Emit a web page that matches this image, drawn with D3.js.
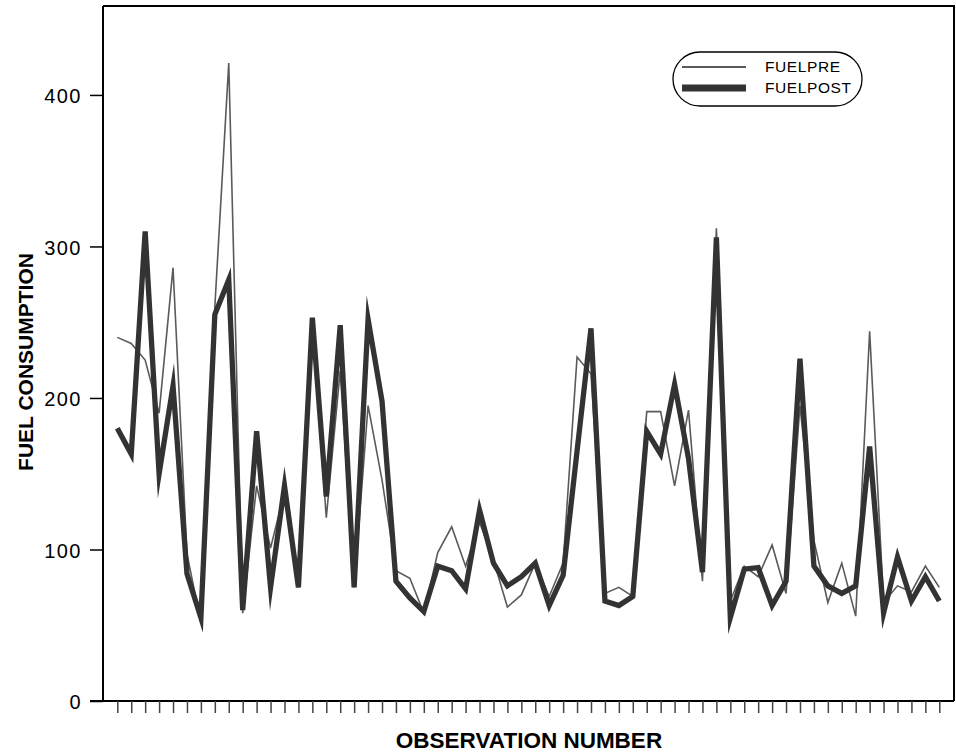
<!DOCTYPE html>
<html>
<head>
<meta charset="utf-8">
<script src="https://cdn.jsdelivr.net/npm/d3@7"></script>
<style>
  html, body { margin: 0; padding: 0; background: #fff; }
  svg { display: block; }
</style>
</head>
<body>
<svg id="chart" width="956" height="755"></svg>
<script>
// ---- data ----
const observations = d3.range(1, 61); // 60 observations
const fuelPre = [240, 236, 225, 190, 286, 97, 52, 260, 421, 58,
                 142, 101, 138, 75, 250, 121, 218, 75, 195, 146,
                 86, 81, 58, 98, 115, 89, 118, 93, 62, 70,
                 91, 69, 91, 227, 216, 71, 75, 69, 191, 191,
                 142, 192, 79, 312, 66, 89, 82, 103, 71, 195,
                 106, 65, 91, 56, 244, 65, 76, 72, 89, 75];
const fuelPost = [180, 163, 310, 150, 208, 84, 55, 255, 278, 60,
                  178, 75, 142, 75, 253, 135, 248, 75, 252, 198,
                  79, 68, 59, 89, 86, 74, 126, 91, 76, 82,
                  91, 63, 83, 165, 246, 66, 63, 69, 178, 163,
                  209, 160, 85, 306, 55, 87, 88, 63, 79, 226,
                  89, 76, 71, 76, 168, 58, 95, 66, 82, 66];
const yTicks = [0, 100, 200, 300, 400];
const seriesNames = ["FUELPRE", "FUELPOST"];

// ---- layout ----
const svg = d3.select("#chart");
const frame = { left: 103, right: 954, top: 6, bottom: 701 };

const x = d3.scaleLinear().domain([1, 60]).range([117.3, 939.3]);
const y = d3.scaleLinear().domain([0, 458.7]).range([frame.bottom, frame.top]);

// frame (top, right)
svg.append("path")
  .attr("d", `M${frame.left},${frame.top}H${frame.right}V${frame.bottom}`)
  .attr("fill", "none").attr("stroke", "#000").attr("stroke-width", 2);

// y axis
const yAxis = d3.axisLeft(y).tickValues(yTicks).tickSize(13).tickPadding(8).tickSizeOuter(0);
const gy = svg.append("g").attr("transform", `translate(${frame.left},0)`).call(yAxis);
gy.select(".domain").attr("stroke", "#000").attr("stroke-width", 2)
  .attr("d", `M0,${frame.top}V${frame.bottom}`);
gy.selectAll(".tick line").attr("stroke", "#000").attr("stroke-width", 1.5);
gy.selectAll(".tick text")
  .attr("font-family", "'Liberation Sans', Arial, sans-serif")
  .attr("font-size", 20).attr("fill", "#000")
  .attr("letter-spacing", "1.5px").attr("dy", "0.38em");

// x axis (ticks only, no labels)
const xAxis = d3.axisBottom(x).tickValues(observations).tickSize(12).tickFormat("").tickSizeOuter(0);
const gx = svg.append("g").attr("transform", `translate(0,${frame.bottom})`).call(xAxis);
gx.select(".domain").attr("stroke", "#000").attr("stroke-width", 2)
  .attr("d", `M${frame.left - 13},0H${frame.right}`);
gx.selectAll(".tick line").attr("stroke", "#444").attr("stroke-width", 1.5);

// lines
const line = d3.line().x((d, i) => x(observations[i])).y(d => y(d));
svg.append("path").datum(fuelPre)
  .attr("d", line).attr("fill", "none")
  .attr("stroke", "#5a5a5a").attr("stroke-width", 1.6).attr("stroke-linejoin", "miter");
svg.append("path").datum(fuelPost)
  .attr("d", line).attr("fill", "none")
  .attr("stroke", "#333").attr("stroke-width", 5.3).attr("stroke-linejoin", "miter")
  .attr("stroke-miterlimit", 10);

// axis titles
svg.append("text")
  .attr("x", 529).attr("y", 748)
  .attr("text-anchor", "middle")
  .attr("font-family", "'Liberation Sans Narrow', 'Arial Narrow', 'Liberation Sans', Arial, sans-serif")
  .attr("font-weight", "bold").attr("font-size", 22.5)
  .text("OBSERVATION NUMBER");
svg.append("text")
  .attr("transform", "translate(33,362) rotate(-90)")
  .attr("text-anchor", "middle")
  .attr("font-family", "'Liberation Sans Narrow', 'Arial Narrow', 'Liberation Sans', Arial, sans-serif")
  .attr("font-weight", "bold").attr("font-size", 21)
  .text("FUEL CONSUMPTION");

// legend
const lg = svg.append("g");
lg.append("rect")
  .attr("x", 673).attr("y", 52).attr("width", 189).attr("height", 54)
  .attr("rx", 27).attr("ry", 27)
  .attr("fill", "#fff").attr("stroke", "#000").attr("stroke-width", 1.3);
const legendItems = [
  { name: seriesNames[0], color: "#5a5a5a", w: 2, y: 67 },
  { name: seriesNames[1], color: "#333", w: 7, y: 88 }
];
legendItems.forEach(it => {
  lg.append("line").attr("x1", 682).attr("x2", 746).attr("y1", it.y).attr("y2", it.y)
    .attr("stroke", it.color).attr("stroke-width", it.w);
  lg.append("text").attr("x", 765).attr("y", it.y + 5)
    .attr("font-family", "'Liberation Sans', Arial, sans-serif")
    .attr("font-size", 15.5).attr("letter-spacing", "0.6px").attr("fill", "#000")
    .text(it.name);
});
</script>
</body>
</html>
